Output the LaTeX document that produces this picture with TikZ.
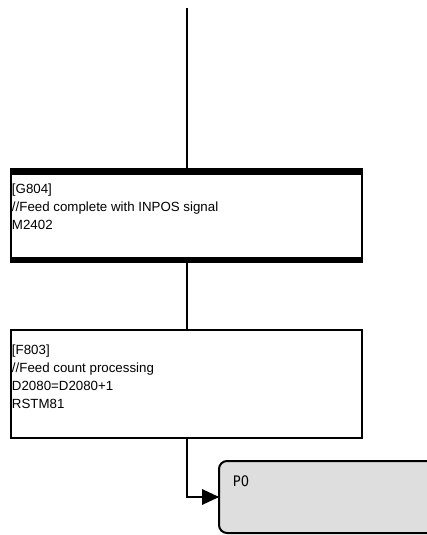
\documentclass[tikz,border=0pt]{standalone}
\usepackage{fontspec}
\setmainfont{Liberation Sans}
\newfontfamily\pfont{DejaVu Sans Condensed}
\tikzset{
  stepbox/.style={draw=black, line width=2pt, fill=white, rectangle, inner sep=0pt, outer sep=0pt, anchor=north west},
  pbox/.style={draw=black, line width=2pt, fill=black!13, rectangle, rounded corners=8pt, inner sep=0pt, outer sep=0pt, anchor=north west},
  txt/.style={inner sep=0pt, outer sep=0pt, align=left, anchor=base west, font=\fontsize{13.3pt}{18pt}\selectfont},
  conn/.style={draw=black, line width=2pt},
}
\begin{document}
\begin{tikzpicture}[x=1pt,y=-1pt]
\clip (0,0) rectangle (427,535);
\coordinate (top) at (186.5,8);
\node[stepbox, minimum width=351pt, minimum height=93pt] (g804) at (11,169) {};
\fill ([yshift=1pt]g804.north west) rectangle ([yshift=-6pt]g804.north east);
\fill ([yshift=-1pt]g804.south west) rectangle ([yshift=5pt]g804.south east);
\node[txt] (g804t) at (12,229) {[G804]\\//Feed complete with INPOS signal\\M2402};
\node[stepbox, minimum width=351pt, minimum height=108pt] (f803) at (11,330) {};
\node[txt] (f803t) at (12,408) {[F803]\\//Feed count processing\\D2080=D2080+1\\RSTM81};
\node[pbox, minimum width=240pt, minimum height=72pt] (p0) at (219,461) {};
\node[inner sep=0pt, anchor=base west, font=\pfont\fontsize{14.5pt}{16pt}\selectfont] (p0t) at (232.7,486.7) {P0};
\draw[conn] (top) -- (g804.north);
\draw[conn] (g804.south) -- (f803.north);
\draw[conn] (f803.south) |- (p0.west);
\fill[black] (p0.west) -- ++(-17,-8) -- ++(0,16) -- cycle;
\end{tikzpicture}
\end{document}
